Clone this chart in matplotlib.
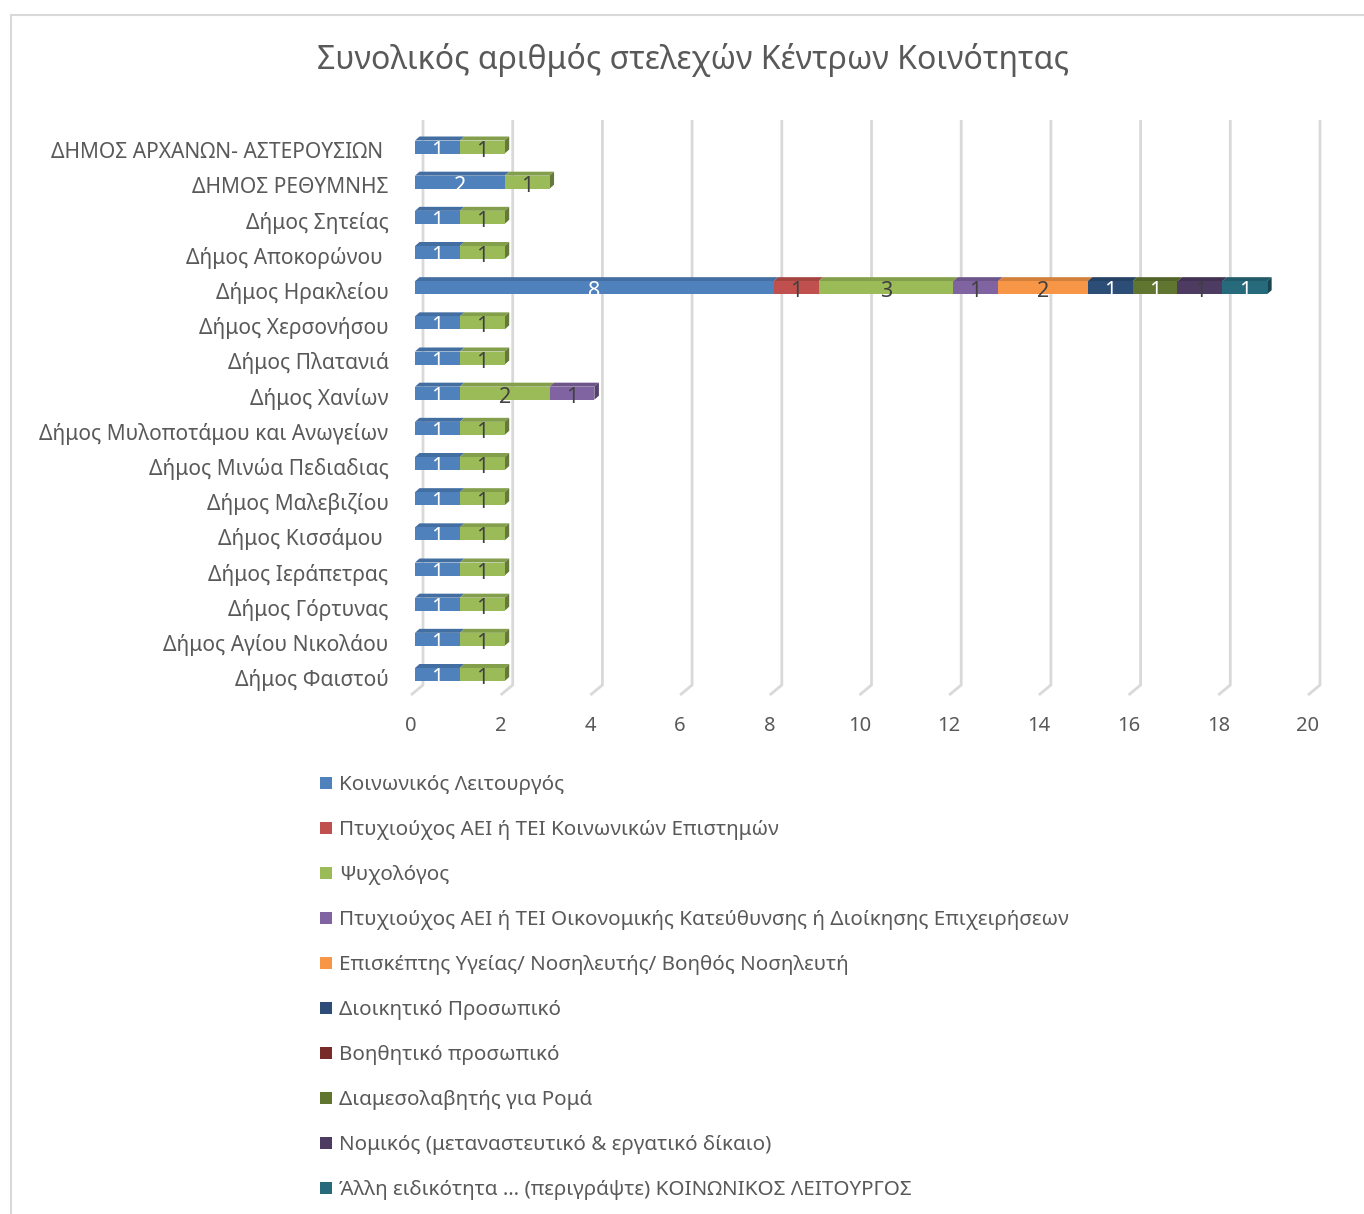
import matplotlib
matplotlib.use("Agg")
import matplotlib.pyplot as plt
from matplotlib.patches import Polygon, Rectangle
from matplotlib.transforms import ScaledTranslation
import numpy as np

plt.rcParams['font.family'] = ['Noto Sans', 'DejaVu Sans']

title = "Συνολικός αριθμός στελεχών Κέντρων Κοινότητας"

categories = [
    "ΔΗΜΟΣ ΑΡΧΑΝΩΝ- ΑΣΤΕΡΟΥΣΙΩΝ ",
    "ΔΗΜΟΣ ΡΕΘΥΜΝΗΣ",
    "Δήμος Σητείας",
    "Δήμος Αποκορώνου ",
    "Δήμος Ηρακλείου",
    "Δήμος Χερσονήσου",
    "Δήμος Πλατανιά",
    "Δήμος Χανίων",
    "Δήμος Μυλοποτάμου και Ανωγείων",
    "Δήμος Μινώα Πεδιαδιας",
    "Δήμος Μαλεβιζίου",
    "Δήμος Κισσάμου ",
    "Δήμος Ιεράπετρας",
    "Δήμος Γόρτυνας",
    "Δήμος Αγίου Νικολάου",
    "Δήμος Φαιστού",
]

series_names = [
    "Κοινωνικός Λειτουργός",
    "Πτυχιούχος ΑΕΙ ή ΤΕΙ Κοινωνικών Επιστημών",
    "Ψυχολόγος",
    "Πτυχιούχος ΑΕΙ ή ΤΕΙ Οικονομικής Κατεύθυνσης ή Διοίκησης Επιχειρήσεων",
    "Επισκέπτης Υγείας/ Νοσηλευτής/ Βοηθός Νοσηλευτή",
    "Διοικητικό Προσωπικό",
    "Βοηθητικό προσωπικό",
    "Διαμεσολαβητής για Ρομά",
    "Νομικός (μεταναστευτικό & εργατικό δίκαιο)",
    "Άλλη ειδικότητα … (περιγράψτε) ΚΟΙΝΩΝΙΚΟΣ ΛΕΙΤΟΥΡΓΟΣ",
]

koinonikos = [1, 2, 1, 1, 8, 1, 1, 1, 1, 1, 1, 1, 1, 1, 1, 1]
ptyx_koin = [0, 0, 0, 0, 1, 0, 0, 0, 0, 0, 0, 0, 0, 0, 0, 0]
psychologos = [1, 1, 1, 1, 3, 1, 1, 2, 1, 1, 1, 1, 1, 1, 1, 1]
ptyx_oik = [0, 0, 0, 0, 1, 0, 0, 1, 0, 0, 0, 0, 0, 0, 0, 0]
episkeptis = [0, 0, 0, 0, 2, 0, 0, 0, 0, 0, 0, 0, 0, 0, 0, 0]
dioikitiko = [0, 0, 0, 0, 1, 0, 0, 0, 0, 0, 0, 0, 0, 0, 0, 0]
voithitiko = [0, 0, 0, 0, 0, 0, 0, 0, 0, 0, 0, 0, 0, 0, 0, 0]
roma = [0, 0, 0, 0, 1, 0, 0, 0, 0, 0, 0, 0, 0, 0, 0, 0]
nomikos = [0, 0, 0, 0, 1, 0, 0, 0, 0, 0, 0, 0, 0, 0, 0, 0]
alli = [0, 0, 0, 0, 1, 0, 0, 0, 0, 0, 0, 0, 0, 0, 0, 0]

series_values = [koinonikos, ptyx_koin, psychologos, ptyx_oik, episkeptis,
                 dioikitiko, voithitiko, roma, nomikos, alli]

colors = ["#4F81BD", "#C0504D", "#9BBB59", "#8064A2", "#F79646",
          "#2C4D75", "#772C2A", "#5F7530", "#4D3B62", "#276A7C"]
label_colors = ["white", "#404040", "#404040", "#404040", "#404040",
                "white", "white", "white", "#404040", "white"]

xticks = [0, 2, 4, 6, 8, 10, 12, 14, 16, 18, 20]

W, H = 1364, 1214
fig = plt.figure(figsize=(W / 100, H / 100), dpi=100)

def fx(px):
    return px / W

def fy(py):
    return 1 - py / H

# chart border
fig.add_artist(Rectangle((fx(11), fy(1300)), fx(1400) - fx(11), fy(15) - fy(1300),
                         transform=fig.transFigure, fill=False,
                         edgecolor="#D9D9D9", linewidth=1.5))

# axes placement (pixel based)
ax_left, ax_right = 415, 1312
ax_top, ax_bot = 120, 685
ax = fig.add_axes([fx(ax_left), fy(ax_bot), fx(ax_right) - fx(ax_left),
                   (ax_bot - ax_top) / H])
n = len(categories)
ypos = np.arange(n)[::-1]  # first category at top
ppu_y = (674.5 - 147) / 15
ax.set_xlim(0, 20)
ax.set_ylim(-(ax_bot - 674.5) / ppu_y, 15 + (147 - ax_top) / ppu_y)
ppu_x = (ax_right - ax_left) / 20

for s in ax.spines.values():
    s.set_visible(False)

# back-wall gridlines with floor diagonal
gx = 8 / ppu_x
dx_floor = -4 / ppu_x
dy_floor = 10 / ppu_y
y0, y1 = ax.get_ylim()
for v in xticks:
    ax.plot([v + gx, v + gx, v + dx_floor], [y1, y0, y0 - dy_floor],
            color="#D9D9D9", linewidth=2, clip_on=False, zorder=0,
            solid_capstyle="butt")

def shade(c, f):
    r, g, b = matplotlib.colors.to_rgb(c)
    return (r * f, g * f, b * f)

bar_h = 13 / ppu_y
ddx = 4.5 / ppu_x
ddy = 4 / ppu_y
left = np.zeros(n)
containers = []
for vals, col in zip(series_values, colors):
    vals = np.array(vals, dtype=float)
    cont = ax.barh(ypos, vals, left=left, height=bar_h, color=col,
                   linewidth=0, zorder=3)
    containers.append(cont)
    for p, v in zip(cont.patches, vals):
        if v <= 0:
            continue
        x0, yb = p.get_x(), p.get_y()
        x1, yt = x0 + p.get_width(), yb + p.get_height()
        ax.add_patch(Polygon([(x0, yt), (x0 + ddx, yt + ddy), (x1 + ddx, yt + ddy), (x1, yt)],
                             closed=True, facecolor=shade(col, 0.85), linewidth=0, zorder=2))
    left = left + vals

# side face at end of each stack
for i in range(n):
    total = left[i]
    last = max(k for k in range(len(series_values)) if series_values[k][i] > 0)
    p = containers[last].patches[i]
    yb, yt = p.get_y(), p.get_y() + p.get_height()
    ax.add_patch(Polygon([(total, yb), (total, yt), (total + ddx, yt + ddy), (total + ddx, yb + ddy)],
                         closed=True, facecolor=shade(colors[last], 0.65), linewidth=0, zorder=2))

for cont, vals, lc in zip(containers, series_values, label_colors):
    labs = [str(v) if v > 0 else "" for v in vals]
    texts = ax.bar_label(cont, labels=labs, label_type="center", color=lc,
                         fontsize=15.5, zorder=5)
    for t in texts:
        t.xyann = (0, -3)

ax.set_yticks(ypos)
ax.set_yticklabels(categories, fontsize=15.1, color="#595959")
ax.tick_params(axis="y", length=0, pad=19)
for lbl in ax.get_yticklabels():
    lbl.set_transform(lbl.get_transform() + ScaledTranslation(0, -3 / 100, fig.dpi_scale_trans))
ax.set_xticks(xticks)
ax.set_xticklabels([str(t) for t in xticks], fontsize=14.5, color="#595959")
ax.tick_params(axis="x", length=0, pad=22)
for lbl in ax.get_xticklabels():
    lbl.set_transform(lbl.get_transform() + ScaledTranslation(-4 / 100, 0, fig.dpi_scale_trans))

fig.text(fx(693), fy(60), title, ha="center", va="center", fontsize=23, color="#595959")

# legend
for k, (name, col) in enumerate(zip(series_names, colors)):
    cy = 783 + 45 * k
    fig.add_artist(Rectangle((fx(320), fy(cy + 6)), fx(12), 12 / H,
                             transform=fig.transFigure, facecolor=col, linewidth=0))
    fig.text(fx(339), fy(cy + 2), name, ha="left", va="center", fontsize=14.85, color="#595959")

fig.savefig("out.png", dpi=100)
